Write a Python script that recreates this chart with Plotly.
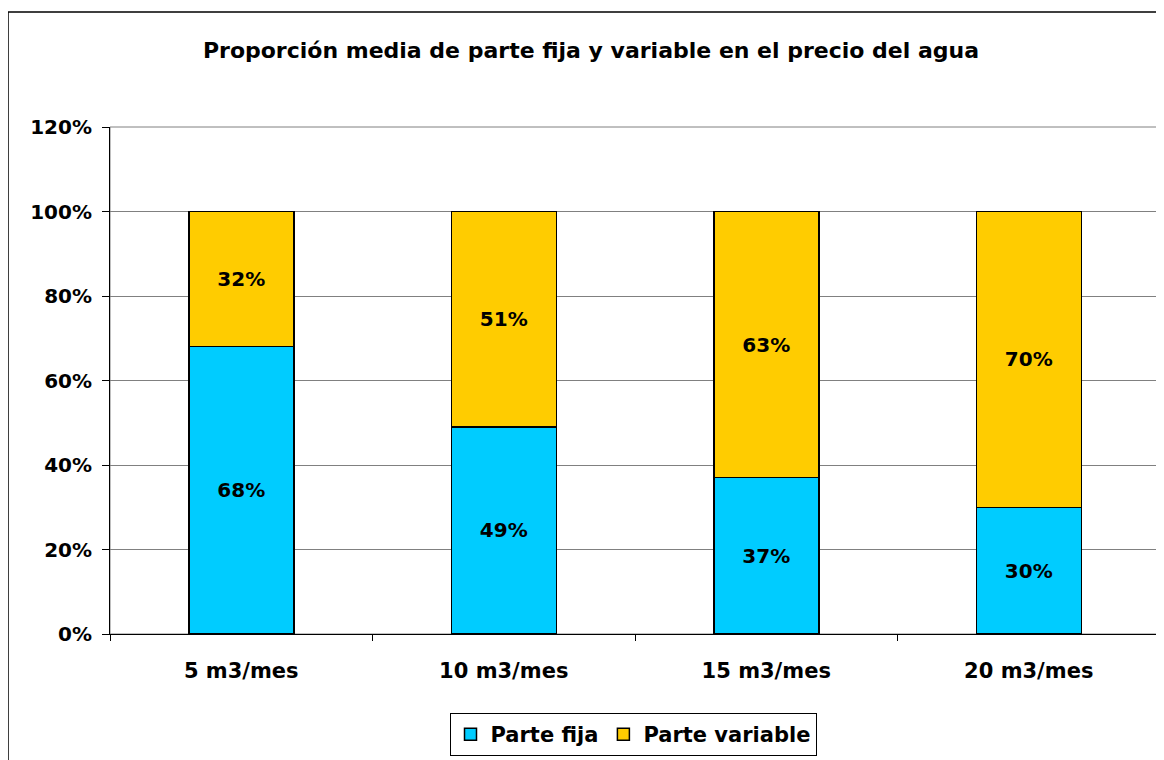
import plotly.graph_objects as go

categories = ["5 m3/mes", "10 m3/mes", "15 m3/mes", "20 m3/mes"]
parte_fija = [68, 49, 37, 30]
parte_variable = [32, 51, 63, 70]
y_ticks = [0, 20, 40, 60, 80, 100, 120]
y_tick_labels = ["0%", "20%", "40%", "60%", "80%", "100%", "120%"]

FONT = "DejaVu Sans, Liberation Sans, Arial, sans-serif"

fig = go.Figure()
fig.add_trace(go.Bar(
    name="<b>Parte fija</b>", x=categories, y=parte_fija,
    marker=dict(color="#00CCFF", line=dict(color="black", width=1.5)),
    text=[f"{v}%" for v in parte_fija], textposition="inside",
    insidetextanchor="middle", textangle=0,
    textfont=dict(family=FONT, size=20, color="black"),
))
fig.add_trace(go.Bar(
    name="<b>Parte variable</b>", x=categories, y=parte_variable,
    marker=dict(color="#FFCC00", line=dict(color="black", width=1.5)),
    text=[f"{v}%" for v in parte_variable], textposition="inside",
    insidetextanchor="middle", textangle=0,
    textfont=dict(family=FONT, size=20, color="black"),
))

# page body offset (default 8px margin)
OFF = 8
W, H = 1164, 760
# target plot area in page pixels
PX0, PX1, PY0, PY1 = 110, 1160, 127, 634
L = PX0 - OFF
R = W - (PX1 - OFF)
T = PY0 - OFF
B = H - (PY1 - OFF)
pw, ph = W - L - R, H - T - B

def px_x(x):
    return (x - OFF - L) / pw

def px_y(y):
    return (H - B - (y - OFF)) / ph

fig.update_layout(
    width=W, height=H, barmode="stack", bargap=0.6,
    paper_bgcolor="white", plot_bgcolor="white",
    margin=dict(l=L, r=R, t=T, b=B),
    font=dict(family=FONT, size=20, color="black"),
    title=dict(text="<b>Proporción media de parte fija y variable en el precio del agua</b>",
               x=(591 - OFF) / W, xanchor="center", y=1 - (50 - OFF) / H, yanchor="middle",
               font=dict(family=FONT, size=22, color="black")),
    showlegend=True,
    legend=dict(orientation="h", x=px_x(633), xanchor="center", y=px_y(713), yanchor="top",
                bordercolor="black", borderwidth=1, bgcolor="white",
                font=dict(family=FONT, size=21, color="black"),
                traceorder="normal", itemwidth=30),
    xaxis=dict(type="category", showline=True, linecolor="black", linewidth=1,
               ticks="outside", tickson="boundaries", ticklen=6, tickcolor="black",
               ticklabelstandoff=18,
               tickfont=dict(family=FONT, size=21, color="black"),
               tickprefix="<b>", ticksuffix="</b>", showgrid=False),
    yaxis=dict(range=[0, 120], tickvals=y_ticks, ticktext=[f"<b>{t}</b>" for t in y_tick_labels],
               showline=True, linecolor="black", linewidth=1,
               ticks="outside", ticklen=7, tickcolor="black",
               ticklabelstandoff=6,
               tickfont=dict(family=FONT, size=20, color="black"),
               showgrid=True, gridcolor="#808080", gridwidth=1, zeroline=False),
    shapes=[
        dict(type="rect", xref="paper", yref="paper",
             x0=px_x(8), x1=px_x(1162), y0=px_y(800), y1=px_y(12),
             line=dict(color="black", width=1.5), fillcolor="rgba(0,0,0,0)", layer="below"),
        dict(type="rect", xref="paper", yref="paper", x0=0, x1=1, y0=0, y1=1,
             line=dict(color="#808080", width=1), fillcolor="rgba(0,0,0,0)", layer="below"),
    ],
)
fig.update_traces(texttemplate="<b>%{text}</b>")
fig.write_html("out.html")
